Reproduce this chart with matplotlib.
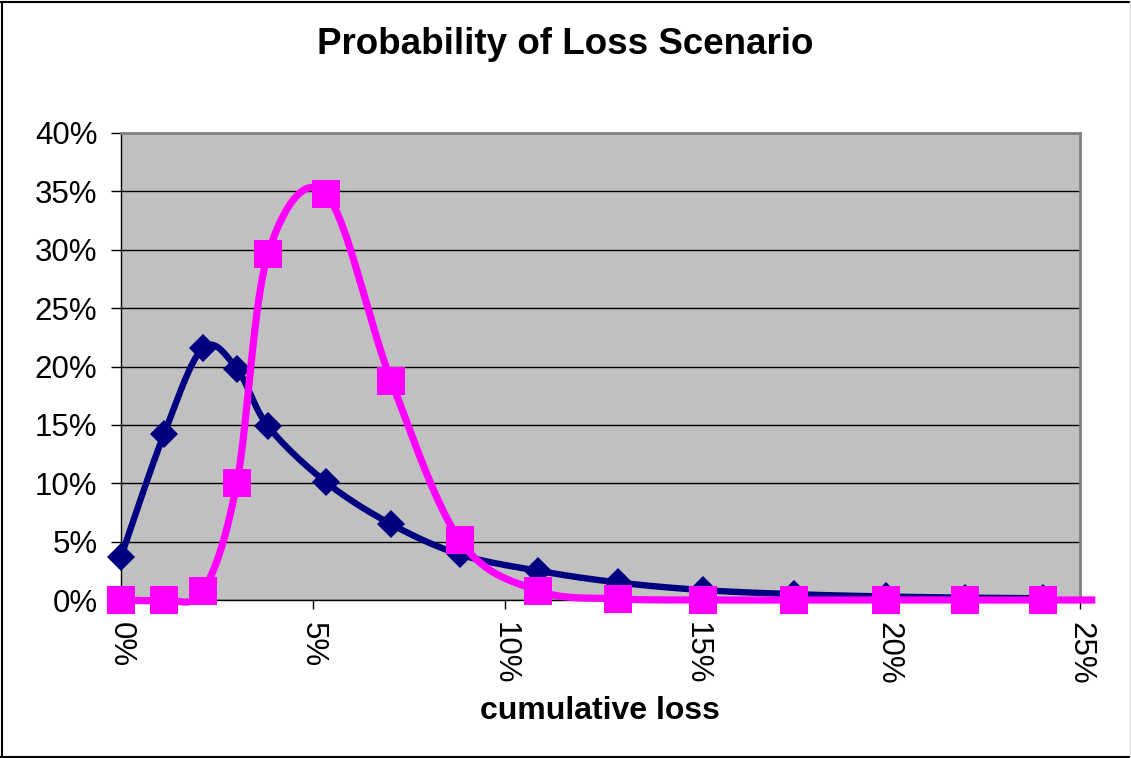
import numpy as np
import matplotlib
matplotlib.use("Agg")
import matplotlib.pyplot as plt
from matplotlib.lines import Line2D

# ---- data (percent) ----
loss_x = [0.0, 1.12, 2.14, 3.02, 3.83, 5.34, 7.04, 8.84, 10.87, 12.96, 15.17, 17.54, 19.94, 22.0, 24.04]
series_navy = [3.7, 14.2, 21.6, 19.8, 14.9, 10.1, 6.5, 3.9, 2.5, 1.5, 0.85, 0.5, 0.3, 0.2, 0.15]
series_magenta = [0.0, 0.0, 0.8, 10.0, 29.6, 34.8, 18.8, 5.1, 0.8, 0.1, 0.0, 0.0, 0.0, 0.0, 0.0]
magenta_tail_x = 25.4
magenta_tail_y = 0.0
x_ticks = [0, 5, 10, 15, 20, 25]
y_ticks = [0, 5, 10, 15, 20, 25, 30, 35, 40]
title = "Probability of Loss Scenario"
x_label = "cumulative loss"

W, H = 1131, 758
fig = plt.figure(figsize=(W / 100, H / 100), dpi=100)
fig.patch.set_facecolor("white")
plt.rcParams["font.family"] = ["Liberation Sans", "DejaVu Sans"]

ax_l, ax_b, ax_w, ax_h = 121, 158, 959, 467
ax = fig.add_axes([ax_l / W, ax_b / H, ax_w / W, ax_h / H])
ax.set_facecolor("#C0C0C0")
ax.set_xlim(0, 25)
ax.set_ylim(0, 40)

sx = ax_w / 25.0
sy = ax_h / 40.0


def smooth(xs, ys, n=40):
    P = np.column_stack([np.asarray(xs, float) * sx, np.asarray(ys, float) * sy])
    ext = np.vstack([P[0], P, P[-1]])
    out = [P[0]]
    t = np.linspace(0, 1, n)[1:]
    for i in range(len(P) - 1):
        p0, p1, p2, p3 = ext[i], ext[i + 1], ext[i + 2], ext[i + 3]
        c1 = p1 + (p2 - p0) / 6.0
        c2 = p2 - (p3 - p1) / 6.0
        seg = (((1 - t) ** 3)[:, None] * p1 + (3 * (1 - t) ** 2 * t)[:, None] * c1
               + (3 * (1 - t) * t ** 2)[:, None] * c2 + (t ** 3)[:, None] * p2)
        out.extend(seg)
    out = np.array(out)
    return out[:, 0] / sx, out[:, 1] / sy


navy = "#000080"
magenta = "#FF00FF"

nx, ny = smooth(loss_x, series_navy)
ax.plot(nx, ny, color=navy, lw=4.6, solid_capstyle="butt", zorder=3, clip_on=False)
ax.plot(loss_x, series_navy, ls="none", marker="D", ms=14.5, color=navy, mew=0, zorder=4, clip_on=False)

mx, my = smooth(loss_x + [magenta_tail_x], series_magenta + [magenta_tail_y])
ax.plot(mx, my, color=magenta, lw=5.2, solid_capstyle="butt", zorder=5, clip_on=False)
ax.plot(loss_x, series_magenta, ls="none", marker="s", ms=20.5, color=magenta, mew=0, zorder=6, clip_on=False)

# grid & spines
ax.set_axisbelow(True)
ax.yaxis.grid(True, color="black", lw=1.0)
ax.xaxis.grid(False)
for s in ["left", "bottom"]:
    ax.spines[s].set_color("black")
    ax.spines[s].set_linewidth(1.0)
for s in ["top", "right"]:
    ax.spines[s].set_color("#808080")
    ax.spines[s].set_linewidth(2.0)

ax.set_xticks(x_ticks)
ax.set_xticklabels([f"{v}%" for v in x_ticks], rotation=-90)
ax.set_yticks(y_ticks)
ax.set_yticklabels([f"{v}%" for v in y_ticks])
ax.tick_params(axis="x", direction="out", length=6.5, width=1, pad=9, labelsize=22.5, colors="black")
ax.tick_params(axis="y", direction="out", length=7, width=1, pad=10, labelsize=22.5, colors="black")

fig.text(565 / W, 1 - 54.5 / H, title, ha="center", va="baseline", fontsize=26.5, fontweight="bold")
fig.text(600 / W, 1 - 719 / H, x_label, ha="center", va="baseline", fontsize=23, fontweight="bold")

# outer chart border
fig.add_artist(Line2D([2 / W, 2 / W], [1 / H, 1 - 1.5 / H], transform=fig.transFigure, color="black", lw=1.5))
fig.add_artist(Line2D([1 / W, 1 - 1 / W], [1 - 1.5 / H, 1 - 1.5 / H], transform=fig.transFigure, color="black", lw=1.5))
fig.add_artist(Line2D([1 / W, 1 - 1 / W], [1.5 / H, 1.5 / H], transform=fig.transFigure, color="black", lw=1.5))
fig.add_artist(Line2D([1 - 1.5 / W, 1 - 1.5 / W], [1 / H, 1 - 1 / H], transform=fig.transFigure, color="#DDDDDD", lw=1.0))

fig.savefig("out.png", dpi=100)
